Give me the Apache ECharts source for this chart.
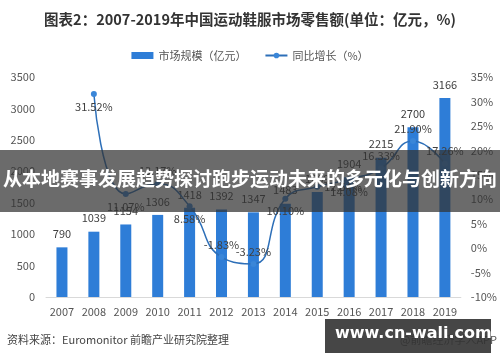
<!DOCTYPE html>
<html><head><meta charset="utf-8">
<script src="https://cdn.jsdelivr.net/npm/echarts@6/dist/echarts.min.js"></script>
<style>html,body{margin:0;padding:0;background:#fff}#c{width:500px;height:362px}</style>
</head><body><div id="c"></div>
<script>
const years = ['2007','2008','2009','2010','2011','2012','2013','2014','2015','2016','2017','2018','2019'];
const marketSize = [790,1039,1154,1306,1418,1392,1347,1483,1669,1904,2215,2700,3166];
const growth = [null,31.52,11.07,13.17,8.58,-1.83,-3.23,10.10,12.54,14.08,16.33,21.90,17.26];
const growthLabelPos = [null,'bottom','bottom','top','bottom','top','top','bottom','right','bottom','top','top','top'];
const leftTicks = [0,3500,500];
const rightTicks = [-10,35,5];
const titleText = '图表2：2007-2019年中国运动鞋服市场零售额(单位：亿元，%)';
const bandText = '从本地赛事发展趋势探讨跑步运动未来的多元化与创新方向';
const sourceText = '资料来源：Euromonitor 前瞻产业研究院整理';
const appText = '@前瞻经济学人APP';
const markText = 'www.cn-wali.com';

const FONT = '"Noto Sans CJK SC", "Noto Sans", sans-serif';
const chart = echarts.init(document.getElementById('c'));
chart.setOption({
  animation: false,
  textStyle: {fontFamily: FONT},
  title: {text: titleText, left: 'center', top: 7,
    textStyle: {fontSize: 14.5, fontWeight: 'bold', color: '#333', fontFamily: FONT}},
  legend: {top: 45, left: 'center', itemGap: 18, itemWidth: 22, itemHeight: 7,
    textStyle: {fontSize: 11, color: '#555'},
    data: [{name: '市场规模（亿元）', icon: 'rect'}, {name: '同比增长（%）'}]},
  grid: {left: 46, right: 39, top: 77, bottom: 65},
  xAxis: {type: 'category', data: years,
    axisLine: {lineStyle: {color: '#d9d9d9'}}, axisTick: {show: false},
    axisLabel: {color: '#555', fontSize: 11, margin: 9}},
  yAxis: [
    {type: 'value', min: leftTicks[0], max: leftTicks[1], interval: leftTicks[2],
     splitLine: {show: false}, axisLine: {show: false}, axisTick: {show: false},
     axisLabel: {color: '#555', fontSize: 11, margin: 11, formatter: v => String(v)}},
    {type: 'value', min: rightTicks[0], max: rightTicks[1], interval: rightTicks[2],
     splitLine: {show: false}, axisLine: {show: false}, axisTick: {show: false},
     axisLabel: {color: '#555', fontSize: 11, margin: 10, formatter: '{value}%'}}
  ],
  series: [
    {name: '市场规模（亿元）', type: 'bar', data: marketSize, barWidth: 11,
     itemStyle: {color: '#2e7dd7'},
     label: {show: true, position: 'top', distance: 8, color: '#404040', fontSize: 11}},
    {name: '同比增长（%）', type: 'line', yAxisIndex: 1, smooth: 0.5,
     data: growth.map((v, i) => ({value: v, label: {position: growthLabelPos[i] || 'top'}})),
     symbol: 'circle', symbolSize: 6,
     lineStyle: {color: '#2d6fb8', width: 1.5},
     itemStyle: {color: '#3a86d8'},
     label: {show: true, color: '#404040', fontSize: 11, distance: 4,
       formatter: p => p.value == null ? '' : p.value.toFixed(2) + '%'}}
  ],
  graphic: [
    {type: 'text', left: 7, top: 334, style: {text: sourceText, font: '11px ' + FONT, fill: '#444'}},
    {type: 'text', right: 3, top: 334, style: {text: appText, font: '11px ' + FONT, fill: '#555'}},
    {type: 'rect', left: 0, top: 150, shape: {width: 500, height: 62}, style: {fill: 'rgba(50,50,50,0.72)'}, z: 100},
    {type: 'text', left: 'center', top: 169, z: 101,
     style: {text: bandText, font: 'bold 19px ' + FONT, fill: '#fff'}},
    {type: 'rect', left: 325, top: 319, shape: {width: 166, height: 34}, style: {fill: 'rgba(50,50,50,0.9)'}, z: 100},
    {type: 'text', left: 335, top: 326, z: 101,
     style: {text: markText, font: 'bold 16px "DejaVu Sans", sans-serif', fill: '#fff'}}
  ]
});
</script></body></html>
